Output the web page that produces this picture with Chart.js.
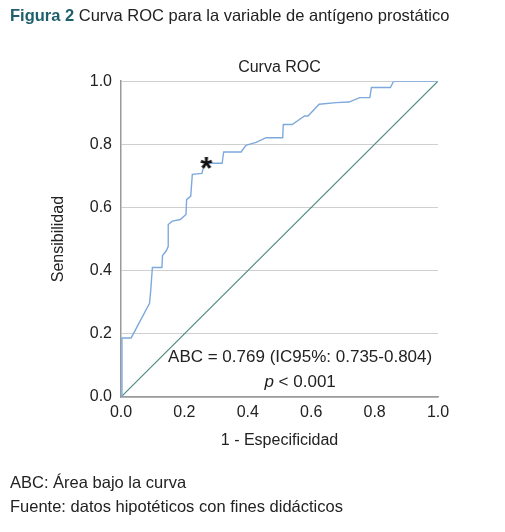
<!DOCTYPE html>
<html>
<head>
<meta charset="utf-8">
<script src="https://cdn.jsdelivr.net/npm/chart.js@4.4.1/dist/chart.umd.min.js"></script>
<style>
    body { margin: 0; background: #fff; }
    #wrap { position: relative; width: 505px; height: 532px; font-family: 'Liberation Sans', Arial, sans-serif; color: #222; }
    #rocChart { position: absolute; left: 0; top: 0; }
    .header { position: absolute; left: 10px; top: 6px; font-size: 16.5px; white-space: nowrap; }
    .header b { color: #1d5f6c; }
    .footer { position: absolute; left: 10px; font-size: 16.5px; white-space: nowrap; }
</style>
</head>
<body>
<div id="wrap">
    <canvas id="rocChart" width="505" height="532"></canvas>
    <div class="header"><b>Figura 2</b> Curva ROC para la variable de antígeno prostático</div>
    <div class="footer" style="top:473px">ABC: Área bajo la curva</div>
    <div class="footer" style="top:497px">Fuente: datos hipotéticos con fines didácticos</div>
</div>
<script>
// Curva ROC (1 - especificidad, sensibilidad)
const fprValues = [0, 0.003, 0.032, 0.09, 0.094, 0.099, 0.129, 0.131, 0.143, 0.149,
                   0.149, 0.162, 0.187, 0.205, 0.207, 0.22, 0.225, 0.255, 0.26, 0.268,
                   0.319, 0.324, 0.379, 0.394, 0.426, 0.458, 0.51, 0.512, 0.54, 0.579,
                   0.59, 0.625, 0.679, 0.719, 0.753, 0.785, 0.79, 0.85, 0.86, 1.0];
const tprValues = [0, 0.187, 0.187, 0.297, 0.34, 0.41, 0.41, 0.448, 0.463, 0.477,
                   0.546, 0.557, 0.562, 0.578, 0.625, 0.636, 0.705, 0.708, 0.726, 0.74,
                   0.74, 0.776, 0.776, 0.797, 0.806, 0.821, 0.821, 0.863, 0.863, 0.89,
                   0.89, 0.927, 0.932, 0.934, 0.948, 0.948, 0.98, 0.98, 1.0, 1.0];
// Linea de referencia
const refFpr = [0, 1];
const refTpr = [0, 1];
// Punto de corte optimo (*)
const cutFpr = [0.269];
const cutTpr = [0.741];
const tickValues = [0, 0.2, 0.4, 0.6, 0.8, 1.0];

const aucText = 'ABC = 0.769 (IC95%: 0.735-0.804)';
const pText = ' < 0.001';

const FONT = "'Liberation Sans', Arial, sans-serif";
const toPoints = (xs, ys) => xs.map((x, i) => ({ x: x, y: ys[i] }));

// asterisco negro como estilo de punto
function makeStar() {
    const c = document.createElement('canvas');
    c.width = 30; c.height = 30;
    const g = c.getContext('2d');
    g.fillStyle = '#111';
    g.font = 'bold 31px ' + FONT;
    g.textAlign = 'center';
    g.textBaseline = 'alphabetic';
    const m = g.measureText('*');
    const a = m.actualBoundingBoxAscent, d = m.actualBoundingBoxDescent;
    g.fillText('*', 15, 15 + (a - d) / 2);
    return c;
}

const textPlugin = {
    id: 'aucText',
    afterDatasetsDraw(chart) {
        const { ctx, scales } = chart;
        const cx = scales.x.getPixelForValue(0.565);
        ctx.save();
        ctx.fillStyle = '#222';
        ctx.textBaseline = 'middle';
        ctx.font = '17px ' + FONT;
        ctx.textAlign = 'center';
        ctx.fillText(aucText, cx, scales.y.getPixelForValue(0.127));
        const wRest = ctx.measureText(pText).width;
        ctx.font = 'italic 17px ' + FONT;
        const wP = ctx.measureText('p').width;
        const x0 = cx - (wRest + wP) / 2;
        const py = scales.y.getPixelForValue(0.048);
        ctx.textAlign = 'left';
        ctx.fillText('p', x0, py);
        ctx.font = '17px ' + FONT;
        ctx.fillText(pText, x0 + wP, py);
        ctx.restore();
    }
};

new Chart(document.getElementById('rocChart'), {
    type: 'scatter',
    data: {
        datasets: [{
            data: toPoints(fprValues, tprValues),
            showLine: true,
            borderColor: '#7ea9dc',
            borderWidth: 1.4,
            pointRadius: 0,
            tension: 0,
            order: 1
        }, {
            data: toPoints(refFpr, refTpr),
            showLine: true,
            borderColor: '#4f8b80',
            borderWidth: 1.2,
            pointRadius: 0,
            order: 2
        }, {
            data: toPoints(cutFpr, cutTpr),
            pointStyle: makeStar(),
            pointRadius: 15,
            order: 0
        }]
    },
    options: {
        responsive: false,
        animation: false,
        layout: { padding: { top: 58, left: 45, right: 67, bottom: 78 } },
        plugins: {
            legend: { display: false },
            tooltip: { enabled: false },
            title: {
                display: true,
                text: 'Curva ROC',
                fullSize: false,
                color: '#222',
                font: { family: FONT, size: 16, weight: 'normal' },
                padding: { top: 0, bottom: 4 }
            }
        },
        scales: {
            x: {
                type: 'linear',
                min: 0, max: 1,
                afterBuildTicks: s => { s.ticks = tickValues.map(v => ({ value: v })); },
                afterFit: s => { s.height = 57; },
                ticks: { color: '#222', padding: 6, font: { family: FONT, size: 16 }, callback: v => v.toFixed(1) },
                grid: { color: 'transparent', drawTicks: false },
                border: { display: true, color: '#9a9a9a', width: 1.5 },
                title: { display: true, text: '1 - Especificidad', color: '#222', font: { family: FONT, size: 16 }, padding: { top: 8, bottom: 4 } }
            },
            y: {
                min: 0, max: 1,
                afterBuildTicks: s => { s.ticks = tickValues.map(v => ({ value: v })); },
                afterFit: s => { s.width = 76; },
                ticks: { color: '#222', padding: 9, font: { family: FONT, size: 16 }, callback: v => v.toFixed(1) },
                grid: { color: '#cfcfcf', lineWidth: 1, drawTicks: false },
                border: { display: true, color: '#9a9a9a', width: 1.5 },
                title: { display: true, text: 'Sensibilidad', color: '#222', font: { family: FONT, size: 16 }, padding: { top: 4, bottom: 4 } }
            }
        }
    },
    plugins: [textPlugin]
});
</script>
</body>
</html>
